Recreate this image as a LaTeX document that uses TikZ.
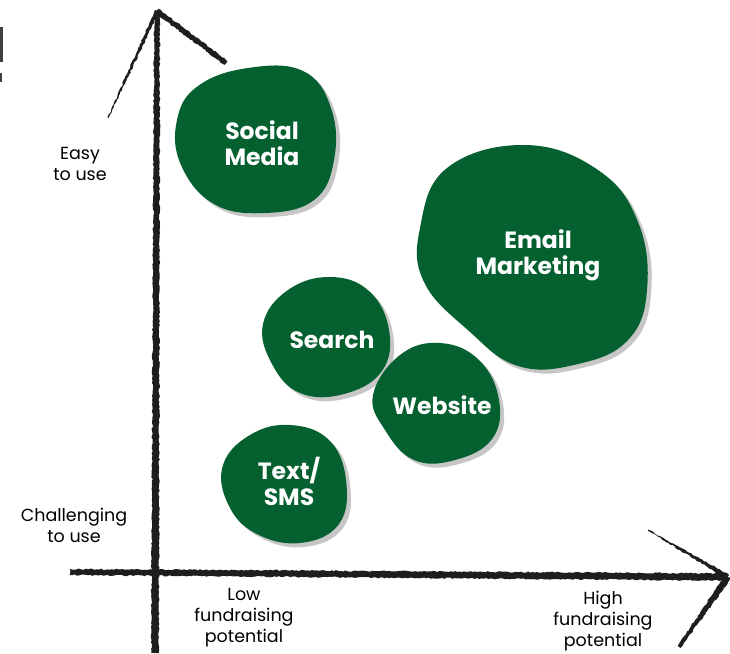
\documentclass[tikz,border=0pt]{standalone}
\usepackage{fontspec}
\setmainfont{Poppins}
\usetikzlibrary{calc,decorations.pathmorphing}
\definecolor{leaf}{HTML}{05602F}
\definecolor{ink}{HTML}{1E1E1E}
\definecolor{shade}{HTML}{C6C6C6}
% brush stroke that tapers from width #3 at #1 to width #4 at #2
\newcommand{\taperstroke}[4]{%
  \fill[ink,decorate,decoration={random steps,segment length=2.2pt,amplitude=0.7pt}]
    ($(#1)!#3!90:(#2)$) -- ($(#1)!#3!-90:(#2)$) --
    ($(#2)!#4!90:(#1)$) -- ($(#2)!#4!-90:(#1)$) -- cycle;}
\begin{document}
\begin{tikzpicture}[x=1pt,y=-1pt,
  axislabel/.style={font=\fontsize{17.5}{21}\selectfont,align=center,text=black,inner sep=0},
  bloblabel/.style={font=\fontsize{23.5}{26}\bfseries\selectfont,align=center,text=white,inner sep=0},
  blob/.style={fill=leaf},
  blobshadow/.style={fill=shade}]
\pgfmathsetseed{11}
\useasboundingbox (0,0) rectangle (730,653);
\fill[white] (0,0) rectangle (730,653);

% axis end points
\coordinate (ybot) at (155,653);
\coordinate (ytip) at (157,11);
\coordinate (ybarbL) at (108,118);
\coordinate (ybarbR) at (226,63);
\coordinate (xbeg) at (70,572);
\coordinate (xtip) at (728,577);
\coordinate (xbarbU) at (648,530);
\coordinate (xbarbD) at (679,647);

% sliver at the left edge
\fill[ink!85] (0,27) rectangle (2.5,62);
\fill[ink!85] (0,73) rectangle (2.2,82);

% axes
\taperstroke{ybot}{ytip}{3.8pt}{2.8pt}
\taperstroke{ytip}{ybarbL}{2.2pt}{0.4pt}
\taperstroke{ytip}{ybarbR}{2.8pt}{2.4pt}
\taperstroke{xbeg}{xtip}{3.0pt}{3.6pt}
\taperstroke{xtip}{xbarbU}{2.4pt}{0.5pt}
\taperstroke{xtip}{xbarbD}{3.4pt}{1.6pt}

% bubbles: Social Media
\fill[blobshadow,xshift=4pt,yshift=-4pt] plot[smooth cycle,tension=0.7] coordinates
  {(198,86) (248,68) (303,71) (331,108) (334,160) (314,200) (265,213) (214,204) (181,165) (177,120)};
\fill[blob] plot[smooth cycle,tension=0.7] coordinates
  {(198,86) (248,68) (303,71) (331,108) (334,160) (314,200) (265,213) (214,204) (181,165) (177,120)};
% Email Marketing
\fill[blobshadow,xshift=4pt,yshift=-4pt] plot[smooth cycle,tension=0.7] coordinates
  {(447,168) (525,145) (598,170) (638,222) (647,290) (628,340) (578,364) (518,366) (468,330) (424,282) (420,228)};
\fill[blob] plot[smooth cycle,tension=0.7] coordinates
  {(447,168) (525,145) (598,170) (638,222) (647,290) (628,340) (578,364) (518,366) (468,330) (424,282) (420,228)};
% Search
\fill[blobshadow,xshift=4pt,yshift=-4pt] plot[smooth cycle,tension=0.7] coordinates
  {(288,290) (330,277) (369,291) (389,330) (382,371) (344,394) (300,393) (272,364) (263,324)};
\fill[blob] plot[smooth cycle,tension=0.7] coordinates
  {(288,290) (330,277) (369,291) (389,330) (382,371) (344,394) (300,393) (272,364) (263,324)};
% Website
\fill[blobshadow,xshift=4pt,yshift=-4pt] plot[smooth cycle,tension=0.7] coordinates
  {(400,355) (440,343) (479,360) (499,400) (492,439) (455,460) (414,460) (385,430) (373,395)};
\fill[blob] plot[smooth cycle,tension=0.7] coordinates
  {(400,355) (440,343) (479,360) (499,400) (492,439) (455,460) (414,460) (385,430) (373,395)};
% Text/SMS
\fill[blobshadow,xshift=4pt,yshift=-4pt] plot[smooth cycle,tension=0.7] coordinates
  {(250,435) (290,425) (329,440) (346,480) (339,524) (300,543) (255,533) (228,504) (223,465)};
\fill[blob] plot[smooth cycle,tension=0.7] coordinates
  {(250,435) (290,425) (329,440) (346,480) (339,524) (300,543) (255,533) (228,504) (223,465)};

% bubble labels
\node[bloblabel] (social) at (262,143) {Social\\Media};
\node[bloblabel] (email) at (538,255) {Email\\Marketing};
\node[bloblabel] (search) at (332,340) {Search};
\node[bloblabel] (website) at (442,405) {Website};
\node[bloblabel] (sms) at (289,481) {Text/\\SMS};

% axis labels
\node[axislabel] (easy) at (80,164) {Easy\\to use};
\node[axislabel] (hard) at (74,525) {Challenging\\to use};
\node[axislabel] (low) at (244,618) {Low\\fundraising\\potential};
\node[axislabel] (high) at (603,621) {High\\fundraising\\potential};
\end{tikzpicture}
\end{document}
